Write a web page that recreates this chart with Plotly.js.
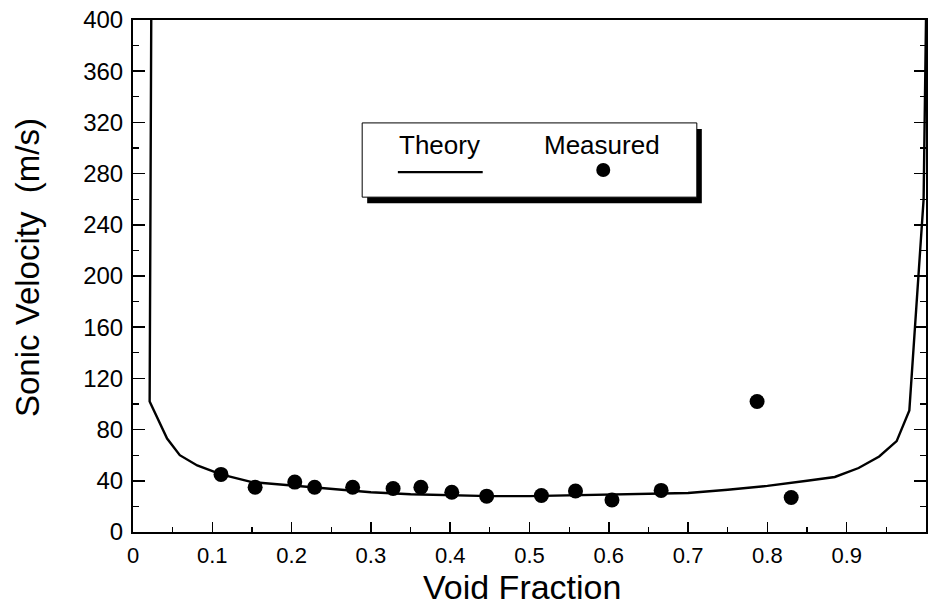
<!DOCTYPE html>
<html>
<head>
<meta charset="utf-8">
<script src="https://cdn.plot.ly/plotly-3.0.1.min.js"></script>
<style>html,body{margin:0;padding:0;background:#fff;}#chart{width:931px;height:610px;}</style>
</head>
<body>
<div id="chart"></div>
<script>
// Theory curve (void fraction vs sonic velocity, m/s)
const theoryX = [0.023, 0.021, 0.043, 0.059, 0.081, 0.111, 0.15, 0.2, 0.25, 0.3, 0.35, 0.4, 0.45, 0.5, 0.55, 0.6, 0.65, 0.7, 0.75, 0.8, 0.85, 0.885, 0.915, 0.941, 0.963, 0.979, 0.997, 1.0];
const theoryY = [400, 102, 73, 60, 52, 45, 39, 36.4, 33.5, 31, 29.5, 28.5, 28, 28, 28.5, 29, 29.5, 30.5, 33, 36, 40, 43, 50, 59, 71, 95, 260, 400];

// Measured points
const measuredX = [0.111, 0.154, 0.204, 0.229, 0.277, 0.328, 0.363, 0.402, 0.446, 0.515, 0.558, 0.604, 0.666, 0.787, 0.830];
const measuredY = [45, 35, 39, 35, 35, 34, 35, 31, 28, 28.5, 32, 25, 32.5, 102, 27];

// Ticks
const xTickVals = [0, 0.1, 0.2, 0.3, 0.4, 0.5, 0.6, 0.7, 0.8, 0.9, 1];
const xTickText = ["0", "0.1", "0.2", "0.3", "0.4", "0.5", "0.6", "0.7", "0.8", "0.9", "1"];
const yTickVals = [0, 40, 80, 120, 160, 200, 240, 280, 320, 360, 400];
const yTickText = ["0", "40", "80", "120", "160", "200", "240", "280", "320", "360", "400"];

const FONT = "Liberation Sans, Arial, Helvetica, sans-serif";

const traces = [
  {x: theoryX, y: theoryY, mode: "lines", type: "scatter", name: "Theory",
   line: {color: "#000", width: 2.4}, hoverinfo: "skip"},
  {x: measuredX, y: measuredY, mode: "markers", type: "scatter", name: "Measured",
   marker: {color: "#000", size: 15}}
];

const W = 793, H = 512;
function px(dx){return dx / W;}
function py(dy){return dy / H;}

const layout = {
  width: 931, height: 610,
  margin: {l: 133, r: 5, t: 20, b: 78},
  paper_bgcolor: "#fff", plot_bgcolor: "#fff",
  showlegend: false,
  font: {family: FONT, color: "#000"},
  xaxis: {
    range: [0, 1], tickvals: xTickVals, ticktext: xTickText,
    ticks: "inside", ticklen: 10, tickwidth: 1.5, tickcolor: "#000",
    minor: {ticks: "inside", dtick: 0.05, tick0: 0, ticklen: 5, tickwidth: 1.2, tickcolor: "#000", showgrid: false},
    showline: true, linecolor: "#000", linewidth: 2, mirror: true,
    showgrid: false, zeroline: false,
    tickfont: {size: 22, family: FONT, color: "#000"},
    ticklabelstandoff: 3
  },
  yaxis: {
    range: [0, 400], tickvals: yTickVals, ticktext: yTickText,
    ticks: "inside", ticklen: 12, tickwidth: 1.5, tickcolor: "#000",
    minor: {ticks: "inside", dtick: 20, tick0: 0, ticklen: 6, tickwidth: 1.2, tickcolor: "#000", showgrid: false},
    showline: true, linecolor: "#000", linewidth: 2, mirror: "ticks",
    showgrid: false, zeroline: false,
    tickfont: {size: 24, family: FONT, color: "#000"},
    ticklabelstandoff: 3
  },
  shapes: [
    // legend shadow
    {type: "rect", xref: "paper", yref: "paper",
     x0: 0.289 + px(5), x1: 0.711 + px(5), y0: 0.654 - py(6), y1: 0.799 - py(6),
     fillcolor: "#000", line: {width: 0}},
    // legend box
    {type: "rect", xref: "paper", yref: "paper",
     x0: 0.289, x1: 0.711, y0: 0.654, y1: 0.799,
     fillcolor: "#fff", line: {color: "#000", width: 1}},
    // theory sample line
    {type: "line", xref: "paper", yref: "paper",
     x0: 0.334, x1: 0.441, y0: 0.703, y1: 0.703,
     line: {color: "#000", width: 2.2}},
    // measured sample dot
    {type: "circle", xref: "paper", yref: "paper",
     x0: 0.593 - px(7), x1: 0.593 + px(7), y0: 0.707 - py(7), y1: 0.707 + py(7),
     fillcolor: "#000", line: {width: 0}}
  ],
  annotations: [
    {text: "Theory", xref: "paper", yref: "paper", x: 0.387, y: 0.756,
     showarrow: false, xanchor: "center", yanchor: "middle",
     font: {size: 26, family: FONT, color: "#000"}},
    {text: "Measured", xref: "paper", yref: "paper", x: 0.591, y: 0.756,
     showarrow: false, xanchor: "center", yanchor: "middle",
     font: {size: 26, family: FONT, color: "#000"}},
    {text: "Void Fraction", xref: "paper", yref: "paper", x: (522 - 133) / W, y: -(587 - 532) / H,
     showarrow: false, xanchor: "center", yanchor: "middle",
     font: {size: 34, family: FONT, color: "#000"}},
    {text: "Sonic Velocity  (m/s)", xref: "paper", yref: "paper", x: -(133 - 27) / W, y: (532 - 268) / H,
     showarrow: false, xanchor: "center", yanchor: "middle", textangle: -90,
     font: {size: 33, family: FONT, color: "#000"}}
  ]
};

Plotly.newPlot("chart", traces, layout, {staticPlot: true, displayModeBar: false});
</script>
</body>
</html>
